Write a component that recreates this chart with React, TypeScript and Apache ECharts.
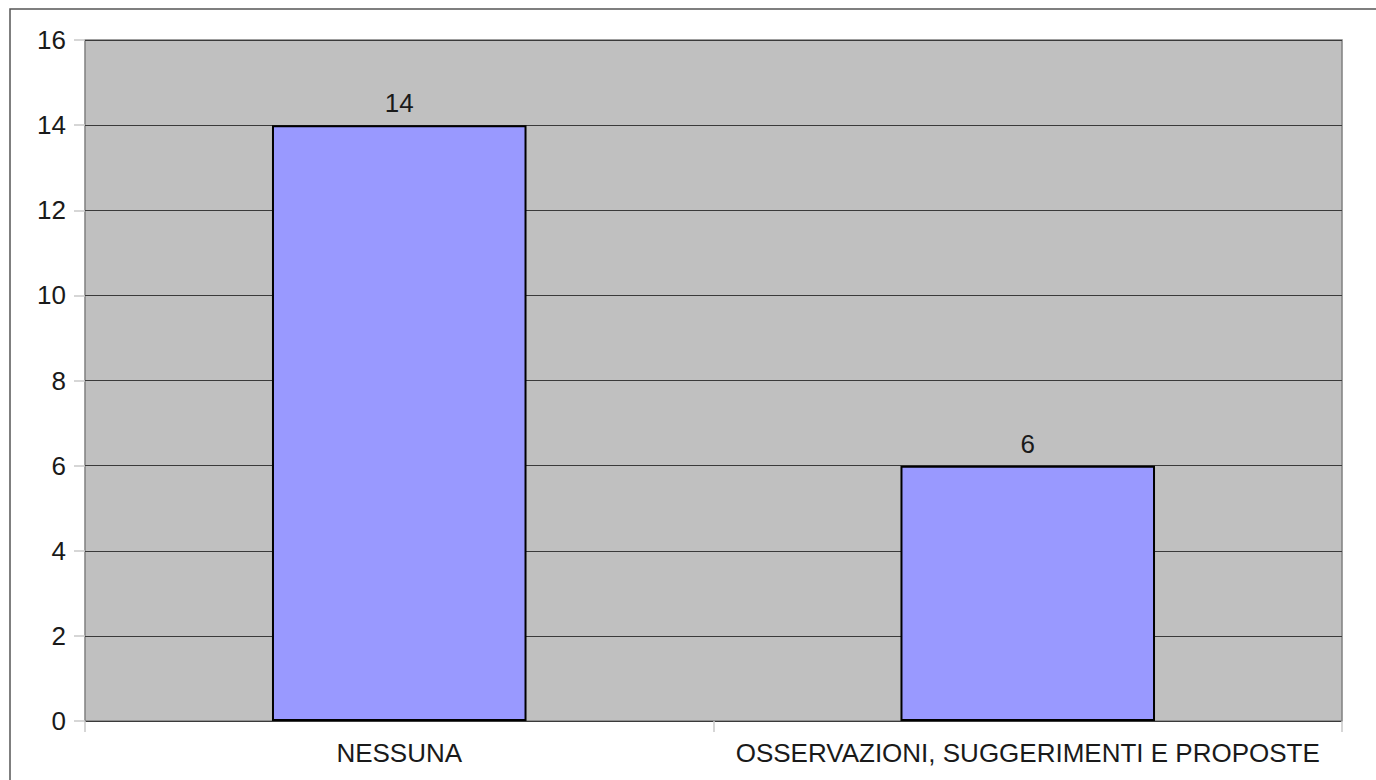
import React, { useEffect, useRef } from "react";
import * as echarts from "echarts";

const categories = ["NESSUNA", "OSSERVAZIONI, SUGGERIMENTI E PROPOSTE"];
const values = [14, 6];
const yMin = 0;
const yMax = 16;
const yStep = 2;

export default function App() {
  const ref = useRef<HTMLDivElement>(null);
  useEffect(() => {
    if (!ref.current) return;
    const chart = echarts.init(ref.current, null, { renderer: "svg" });
    const font = "'Liberation Sans', Arial, sans-serif";
    chart.setOption({
      animation: false,
      backgroundColor: "#ffffff",
      graphic: [
        {
          type: "rect",
          shape: { x: 10, y: 9, width: 1400, height: 800 },
          style: { fill: "none", stroke: "#555555", lineWidth: 1.5 },
          silent: true,
          z: 0,
        },
      ],
      grid: {
        left: 85,
        top: 40,
        right: 34,
        bottom: 59,
        show: true,
        backgroundColor: "#c0c0c0",
        borderColor: "#808080",
        borderWidth: 1.5,
      },
      xAxis: {
        type: "category",
        data: categories,
        axisLine: { show: false },
        axisTick: { show: true, length: 11, lineStyle: { color: "#c8c8c8", width: 1.5 } },
        axisLabel: {
          fontSize: 26,
          color: "#1a1a1a",
          fontFamily: font,
          margin: 19,
          interval: 0,
          hideOverlap: false,
        },
        splitLine: { show: false },
      },
      yAxis: {
        type: "value",
        min: yMin,
        max: yMax,
        interval: yStep,
        axisLine: { show: false },
        axisTick: { show: true, length: 11, lineStyle: { color: "#c8c8c8", width: 1.5 } },
        axisLabel: { fontSize: 26, color: "#1a1a1a", fontFamily: font, margin: 19 },
        splitLine: { show: true, lineStyle: { color: "#3a3a3a", width: 1 } },
      },
      series: [
        {
          type: "bar",
          data: values,
          barCategoryGap: "59.5%",
          itemStyle: { color: "#9999ff", borderColor: "#000000", borderWidth: 2 },
          label: {
            show: true,
            position: "top",
            distance: 9,
            fontSize: 26,
            color: "#1a1a1a",
            fontFamily: font,
          },
        },
      ],
    });
    return () => chart.dispose();
  }, []);
  return (
    <div
      ref={ref}
      style={{ position: "absolute", left: 0, top: 0, width: 1376, height: 780 }}
    />
  );
}
